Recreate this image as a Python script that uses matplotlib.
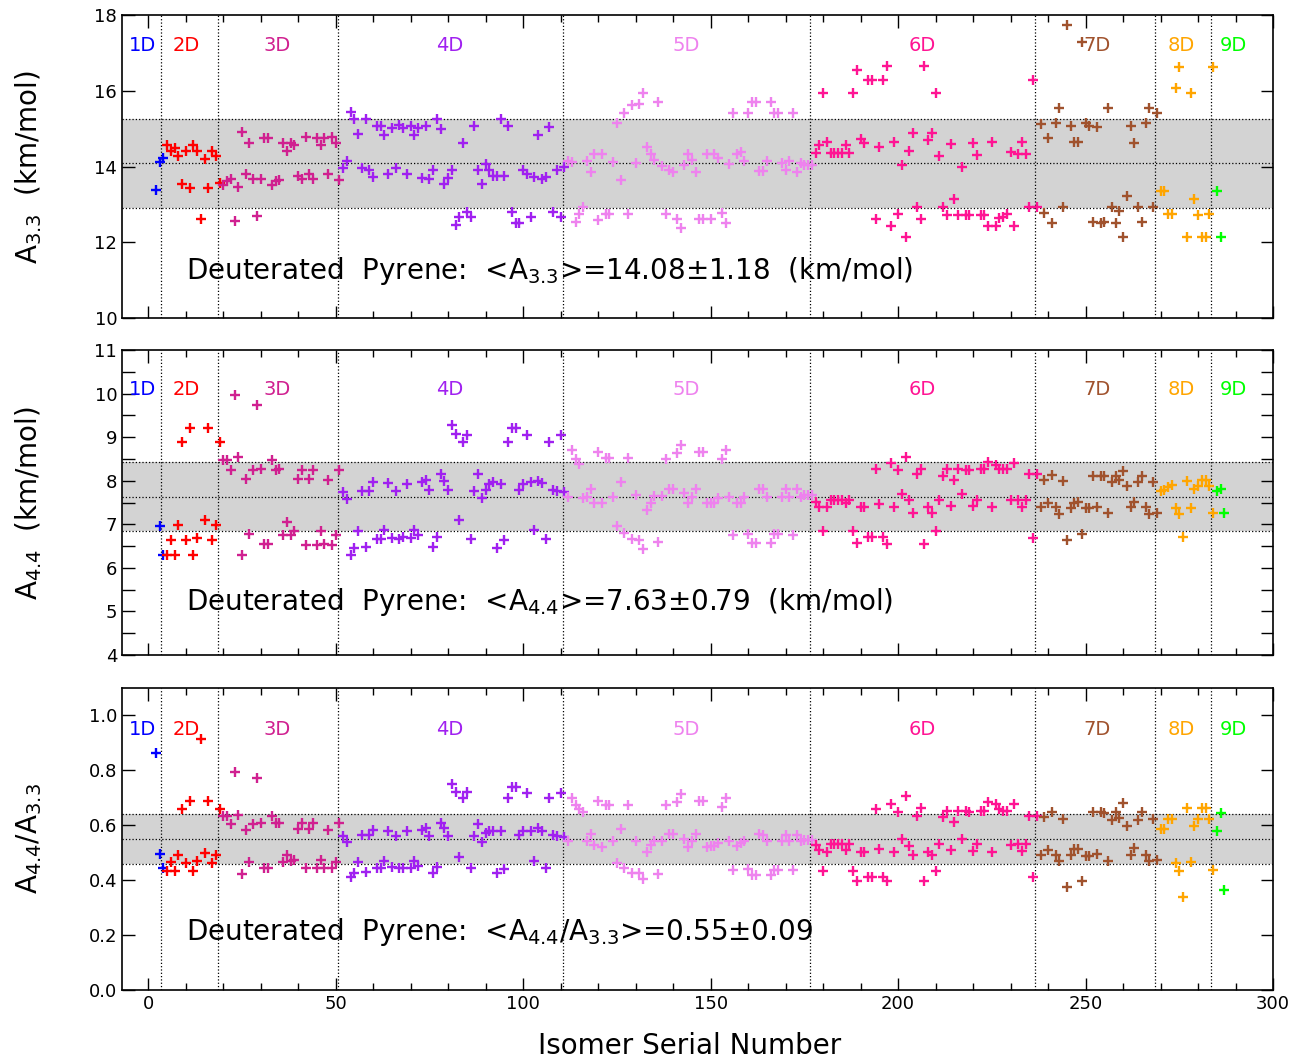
import matplotlib
matplotlib.use("Agg")
import matplotlib.pyplot as plt
import numpy as np
from matplotlib.ticker import MultipleLocator

# group names / colours
groups = ["1D", "2D", "3D", "4D", "5D", "6D", "7D", "8D", "9D"]
colors = ["#0000FF", "#FF0000", "#D02090", "#A020F0", "#EE82EE",
          "#FF1493", "#A0522D", "#FFA500", "#00FF00"]
label_x = [-1.5, 10, 34.5, 80.5, 143.5, 206.5, 253, 275.5, 289.5]
bounds = [3.5, 18.5, 50.5, 110.5, 176.5, 236.5, 268.5, 283.5]

# A3.3 (km/mol)
a33_1d = [13.37, 14.12, 14.23]
a33_2d = [14.56, 14.41, 14.50, 14.27, 13.55, 14.41, 13.43, 14.56, 14.41, 12.62,
          14.21, 13.43, 14.41, 14.27, 13.56]
a33_3d = [13.52, 13.61, 13.68, 12.57, 13.46, 14.92, 13.79, 14.61, 13.66, 12.70,
          13.66, 14.76, 14.76, 13.52, 13.61, 13.64, 14.63, 14.41, 14.63, 14.56,
          13.74, 13.66, 14.77, 13.79, 13.68, 14.76, 14.56, 14.76, 13.81, 14.77,
          14.63, 13.64]
a33_4d = [13.95, 14.14, 15.44, 15.25, 14.85, 13.96, 15.25, 13.92, 13.73, 15.07,
          15.07, 14.84, 13.79, 15.01, 13.95, 15.10, 15.01, 13.80, 15.07, 14.84,
          15.01, 13.70,
          15.07, 13.68, 13.92, 15.25, 14.98, 13.55, 13.70, 13.92, 12.45, 12.66,
          14.61, 12.80, 12.66, 15.07, 13.92, 13.55, 14.07, 13.92, 13.74, 13.76,
          15.25, 13.76, 15.07, 12.80, 12.51, 12.51, 13.92, 13.80, 12.67, 13.73,
          14.84, 13.68, 13.73, 15.05, 12.80, 13.92, 12.67, 13.98]
a33_5d = [14.14, 14.12, 12.53, 12.75, 12.92, 14.14, 13.85, 14.34, 12.60, 14.34,
          12.75, 12.75, 14.11, 15.14, 13.64, 15.40, 12.75, 15.62, 14.10, 15.64,
          15.93, 14.52, 14.33, 14.17, 15.69, 14.01, 12.75, 13.90, 13.86, 12.62,
          12.38, 14.03, 14.34, 14.18, 13.86, 12.62, 12.62, 14.32,
          12.62, 14.33, 14.23, 12.77, 12.51, 14.07, 15.42, 14.33, 14.39, 14.14,
          15.40, 15.69, 15.69, 13.89, 13.89, 14.14, 15.69, 15.40, 15.40, 14.10,
          13.90, 14.14, 15.42, 13.86, 14.10, 14.03, 14.03, 14.03]
a33_6d = [14.36, 14.56, 15.93, 14.64, 14.36, 14.36, 14.36, 14.36, 14.58, 14.36,
          15.93, 16.54, 14.72, 14.63, 16.29, 16.29, 12.62, 14.52, 16.29, 16.66,
          12.42, 14.66, 12.74, 14.05, 12.15, 14.41, 14.89, 12.92, 12.62, 16.66,
          14.69, 14.89, 15.93, 14.27, 12.94, 12.73, 14.60, 13.15, 12.72, 13.99,
          12.72, 12.73, 14.63, 14.30, 12.72, 12.73, 12.42, 14.64, 12.42, 12.65,
          12.68, 12.74, 14.38, 12.43, 14.32, 14.66, 14.32, 12.92, 16.29, 12.92]
a33_7d = [15.11, 12.77, 14.74, 12.51, 15.15, 15.54, 12.92, 17.74, 15.07, 14.66,
          14.66, 17.28, 15.15, 15.07, 12.53, 15.05, 12.51, 12.53, 15.54, 12.94,
          12.51, 12.82, 12.15, 13.21, 15.07, 14.61, 12.94, 12.53, 15.15, 15.54,
          12.92, 15.42]
a33_8d = [13.35, 13.35, 12.74, 12.74, 16.06, 16.64, 19.90, 12.15, 15.93, 13.15,
          12.72, 12.15, 12.15, 12.74, 16.64]
a33_9d = [13.35, 12.15, 19.90]

# A4.4 (km/mol)
a44_1d = [11.53, 6.97, 6.30]
a44_2d = [6.30, 6.64, 6.30, 6.98, 8.90, 6.64, 9.22, 6.30, 6.68, 11.53,
          7.10, 9.22, 6.64, 6.98, 8.89]
a44_3d = [8.48, 8.48, 8.25, 9.97, 8.55, 6.30, 8.03, 6.78, 8.25, 9.75,
          8.27, 6.55, 6.55, 8.48, 8.25, 8.27, 6.76, 7.06, 6.76, 6.85,
          8.03, 8.25, 6.53, 8.03, 8.25, 6.53, 6.84, 6.55, 8.02, 6.53,
          6.76, 8.25]
a44_4d = [7.75, 7.57, 6.30, 6.45, 6.85, 7.76, 6.47, 7.76, 7.98, 6.66,
          6.66, 6.88, 7.94, 6.69, 7.76, 6.66, 6.71, 7.92, 6.68, 6.87,
          6.76, 7.98,
          8.02, 7.79, 6.47, 6.71, 8.15, 8.00, 7.79, 9.28, 9.07, 7.09,
          8.90, 9.05, 6.66, 7.76, 8.15, 7.60, 7.79, 7.93, 7.98, 6.46,
          7.93, 6.64, 8.89, 9.22, 9.22, 7.79, 7.93, 9.05, 7.96, 6.87,
          7.99, 7.94, 6.67, 8.89, 7.79, 7.77, 9.05, 7.75]
a44_5d = [7.63, 8.71, 8.50, 8.38, 7.60, 7.63, 7.80, 7.48, 8.66, 7.48,
          8.52, 8.52, 7.63, 6.97, 7.96, 6.79, 8.52, 6.66, 7.67, 6.64,
          6.44, 7.33, 7.48, 7.66, 6.59, 7.66, 8.50, 7.82, 7.82, 8.64,
          8.82, 7.71, 7.48, 7.63, 7.81, 8.66, 8.66, 7.48,
          7.48, 7.48, 7.60, 8.50, 8.71, 7.63, 6.76, 7.48, 7.48, 7.63,
          6.77, 6.58, 6.58, 7.80, 7.80, 7.63, 6.58, 6.77, 6.77, 7.63,
          7.80, 7.63, 6.76, 7.80, 7.63, 7.67, 7.67, 7.67]
a44_6d = [7.52, 7.40, 6.85, 7.40, 7.55, 7.55, 7.56, 7.55, 7.48, 7.56,
          6.85, 6.58, 7.40, 7.40, 6.70, 6.70, 8.28, 7.46, 6.70, 6.54,
          8.40, 7.40, 8.25, 7.70, 8.54, 7.55, 7.27, 8.15, 8.28, 6.55,
          7.40, 7.27, 6.85, 7.56, 8.11, 8.27, 7.43, 8.02, 8.27, 7.70,
          8.25, 8.25, 7.43, 7.55, 8.27, 8.27, 8.42, 7.40, 8.36, 8.28,
          8.27, 8.27, 7.56, 8.41, 7.56, 7.40, 7.56, 8.15, 6.68, 8.15]
a44_7d = [7.39, 8.02, 7.49, 8.13, 7.39, 7.24, 7.99, 6.64, 7.37, 7.48,
          7.52, 6.78, 7.37, 7.37, 8.11, 7.39, 8.11, 8.11, 7.26, 7.98,
          8.11, 8.02, 8.23, 7.88, 7.39, 7.52, 7.98, 8.11, 7.39, 7.24,
          7.98, 7.27]
a44_8d = [7.77, 7.79, 7.86, 7.90, 7.37, 7.24, 6.71, 8.00, 7.37, 7.80,
          7.88, 8.02, 8.02, 7.88, 7.26]
a44_9d = [7.76, 7.82, 7.26]

# A4.4/A3.3
r_1d = [0.862, 0.496, 0.444]
r_2d = [0.434, 0.465, 0.434, 0.492, 0.659, 0.462, 0.688, 0.434, 0.468, 0.914,
        0.500, 0.688, 0.462, 0.492, 0.659]
r_3d = [0.632, 0.632, 0.605, 0.795, 0.637, 0.422, 0.583, 0.465, 0.605, 0.773,
        0.607, 0.446, 0.446, 0.632, 0.607, 0.610, 0.465, 0.492, 0.468, 0.474,
        0.585, 0.607, 0.444, 0.585, 0.607, 0.444, 0.474, 0.444, 0.583, 0.444,
        0.465, 0.607]
r_4d = [0.562, 0.538, 0.410, 0.425, 0.465, 0.564, 0.429, 0.564, 0.583, 0.444,
        0.446, 0.468, 0.580, 0.449, 0.561, 0.444, 0.444, 0.578, 0.446, 0.468,
        0.453, 0.583,
        0.589, 0.562, 0.425, 0.449, 0.607, 0.589, 0.562, 0.749, 0.720, 0.486,
        0.698, 0.720, 0.444, 0.562, 0.605, 0.540, 0.571, 0.580, 0.580, 0.425,
        0.580, 0.442, 0.698, 0.738, 0.738, 0.564, 0.580, 0.719, 0.580, 0.468,
        0.589, 0.580, 0.444, 0.700, 0.564, 0.562, 0.719, 0.559]
r_5d = [0.541, 0.698, 0.672, 0.659, 0.647, 0.543, 0.567, 0.528, 0.690, 0.522,
        0.672, 0.672, 0.541, 0.462, 0.587, 0.444, 0.672, 0.425, 0.544, 0.425,
        0.405, 0.504, 0.528, 0.541, 0.423, 0.544, 0.672, 0.568, 0.568, 0.686,
        0.714, 0.549, 0.522, 0.541, 0.568, 0.690, 0.690, 0.522,
        0.526, 0.526, 0.535, 0.668, 0.698, 0.543, 0.438, 0.526, 0.535, 0.541,
        0.441, 0.419, 0.419, 0.567, 0.564, 0.541, 0.419, 0.438, 0.438, 0.541,
        0.564, 0.541, 0.438, 0.564, 0.541, 0.547, 0.547, 0.547]
r_6d = [0.528, 0.510, 0.434, 0.504, 0.531, 0.531, 0.531, 0.531, 0.510, 0.531,
        0.434, 0.398, 0.504, 0.504, 0.413, 0.413, 0.659, 0.513, 0.413, 0.396,
        0.678, 0.504, 0.650, 0.550, 0.707, 0.526, 0.490, 0.634, 0.661, 0.396,
        0.504, 0.490, 0.432, 0.531, 0.630, 0.652, 0.510, 0.611, 0.653, 0.550,
        0.653, 0.650, 0.507, 0.531, 0.653, 0.653, 0.683, 0.504, 0.677, 0.659,
        0.652, 0.652, 0.528, 0.678, 0.531, 0.507, 0.531, 0.632, 0.411, 0.632]
r_7d = [0.492, 0.630, 0.510, 0.650, 0.492, 0.468, 0.622, 0.375, 0.492, 0.513,
        0.513, 0.396, 0.489, 0.489, 0.650, 0.495, 0.650, 0.646, 0.468, 0.620,
        0.650, 0.628, 0.680, 0.599, 0.492, 0.516, 0.618, 0.650, 0.492, 0.468,
        0.622, 0.474]
r_8d = [0.585, 0.585, 0.622, 0.622, 0.462, 0.435, 0.337, 0.662, 0.465, 0.598,
        0.622, 0.662, 0.662, 0.622, 0.438]
r_9d = [0.579, 0.646, 0.365]

panels = [
    dict(data=[a33_1d, a33_2d, a33_3d, a33_4d, a33_5d, a33_6d, a33_7d, a33_8d, a33_9d],
         mean=14.08, sig=1.18, ylim=(10, 18), major=2, minor=None, laby=17.2,
         ylabel=r"A$_{3.3}$  (km/mol)", texty=11.25,
         text=r"Deuterated  Pyrene:  <A$_{3.3}$>=14.08±1.18  (km/mol)"),
    dict(data=[a44_1d, a44_2d, a44_3d, a44_4d, a44_5d, a44_6d, a44_7d, a44_8d, a44_9d],
         mean=7.63, sig=0.79, ylim=(4, 11), major=1, minor=0.5, laby=10.1,
         ylabel=r"A$_{4.4}$  (km/mol)", texty=5.22,
         text=r"Deuterated  Pyrene:  <A$_{4.4}$>=7.63±0.79  (km/mol)"),
    dict(data=[r_1d, r_2d, r_3d, r_4d, r_5d, r_6d, r_7d, r_8d, r_9d],
         mean=0.55, sig=0.09, ylim=(0, 1.1), major=0.2, minor=None, laby=0.95,
         ylabel=r"A$_{4.4}$/A$_{3.3}$", texty=0.21,
         text=r"Deuterated  Pyrene:  <A$_{4.4}$/A$_{3.3}$>=0.55±0.09"),
]

fig = plt.figure(figsize=(12.94, 10.63), dpi=100)
boxes = [[0.0943, 0.7008, 0.8895, 0.2851],
         [0.0943, 0.3838, 0.8895, 0.2869],
         [0.0943, 0.0687, 0.8895, 0.2841]]

for i, p in enumerate(panels):
    ax = fig.add_axes(boxes[i])
    lo, hi = p["mean"] - p["sig"], p["mean"] + p["sig"]
    ax.axhspan(lo, hi, color="#d3d3d3", lw=0, zorder=0)
    for yv in (lo, p["mean"], hi):
        ax.axhline(yv, color="k", ls=":", lw=0.9, zorder=1)
    for b in bounds:
        ax.axvline(b, color="k", ls=":", lw=0.9, zorder=1)

    start = 2
    for vals, c in zip(p["data"], colors):
        x = np.arange(start, start + len(vals))
        ax.plot(x, vals, ls="none", marker="+", ms=7, mew=1.7, color=c, zorder=3)
        start += len(vals)

    for g, c, lx in zip(groups, colors, label_x):
        ax.text(lx, p["laby"], g, color=c, fontsize=14, ha="center", va="center")

    ax.text(10, p["texty"], p["text"], fontsize=20, ha="left", va="center")

    ax.set_xlim(-7, 300)
    ax.set_ylim(*p["ylim"])
    ax.xaxis.set_major_locator(MultipleLocator(50))
    ax.xaxis.set_minor_locator(MultipleLocator(10))
    ax.yaxis.set_major_locator(MultipleLocator(p["major"]))
    if p["minor"]:
        ax.yaxis.set_minor_locator(MultipleLocator(p["minor"]))
    ax.tick_params(which="both", direction="in", top=True, right=True, labelsize=13)
    ax.tick_params(which="major", length=9, width=1)
    ax.tick_params(which="minor", length=5, width=1)
    if p["minor"]:
        ax.tick_params(axis="y", which="minor", length=9)
    if i < 2:
        ax.tick_params(labelbottom=False)
    else:
        ax.yaxis.set_major_formatter(matplotlib.ticker.FormatStrFormatter("%.1f"))
        ax.set_xlabel("Isomer Serial Number", fontsize=20)
        ax.xaxis.set_label_coords(0.493, -0.14)
    ax.set_ylabel(p["ylabel"], fontsize=20)
    ax.yaxis.set_label_coords(-0.068, 0.5)
    for s in ax.spines.values():
        s.set_linewidth(1.2)

plt.savefig("out.png", dpi=100)
